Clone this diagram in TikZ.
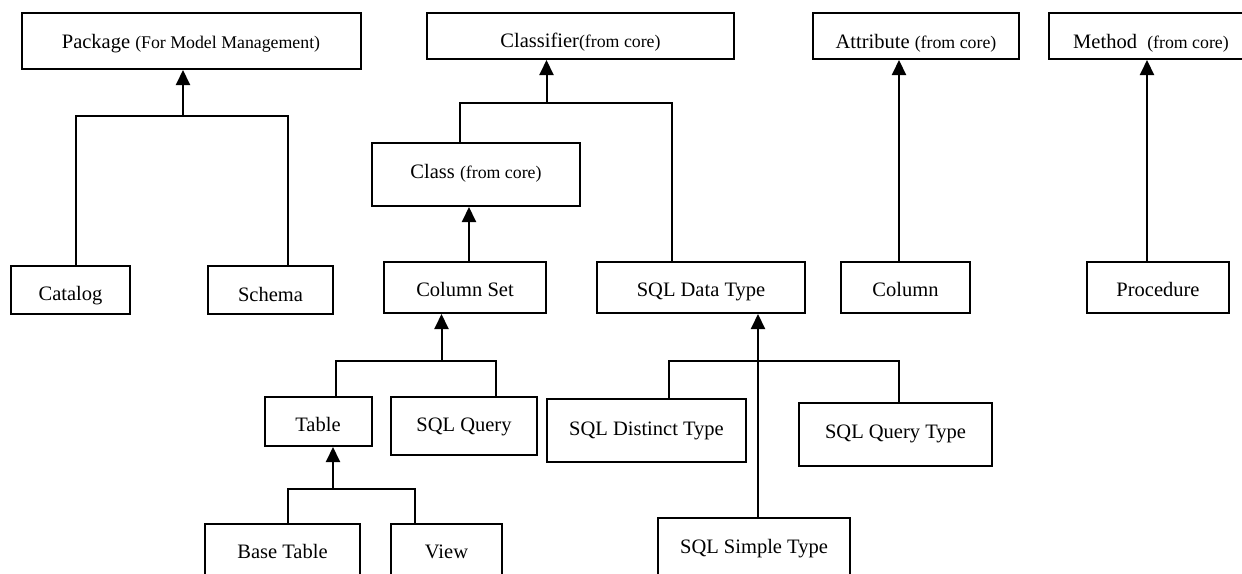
\documentclass[tikz,border=0pt]{standalone}
\usepackage{fontspec}
\setmainfont{Liberation Serif}
\usetikzlibrary{arrows.meta}
\newcommand{\smtxt}{\fontsize{17.8}{20}\selectfont}
\begin{document}
\begin{tikzpicture}[x=1pt,y=-1pt,
  box/.style={draw, line width=2pt, inner sep=0pt, align=center, text depth=5pt, font=\fontsize{20.5}{24}\selectfont},
  bl/.style={text height=#1},
  link/.style={line width=2pt},
  arr/.style={line width=2pt, -{Triangle[width=14pt,length=15pt]}}]
\useasboundingbox (0,0) rectangle (1242,573);
\clip (0,0) rectangle (1242,573);
% top row
\node[box, bl=19.6pt, minimum width=339pt, minimum height=56pt] (pkg) at (191,41) {Package {\smtxt (For Model Management)}};
\node[box, bl=28.4pt, minimum width=307pt, minimum height=46pt] (classifier) at (580.5,36) {Classifier{\smtxt(from core)}};
\node[box, bl=29.6pt, minimum width=206pt, minimum height=46pt] (attribute) at (916,36) {Attribute {\smtxt (from core)}};
\node[box, bl=29.6pt, minimum width=204pt, minimum height=46pt] (method) at (1151,36) {Method\hspace{0.5em}{\smtxt (from core)}};
% second level
\node[box, bl=12.6pt, minimum width=208pt, minimum height=63pt] (class) at (476,174.5) {Class {\smtxt (from core)}};
\node[box, bl=26.4pt, minimum width=119pt, minimum height=48pt] (catalog) at (70.5,290) {Catalog};
\node[box, bl=28.4pt, minimum width=125pt, minimum height=48pt] (schema) at (270.5,290) {Schema};
\node[box, bl=23.4pt, minimum width=162pt, minimum height=51pt] (colset) at (465,287.5) {Column Set};
\node[box, bl=23.4pt, minimum width=208pt, minimum height=51pt] (sqldt) at (701,287.5) {SQL Data Type};
\node[box, bl=23.4pt, minimum width=129pt, minimum height=51pt] (column) at (905.5,287.5) {Column};
\node[box, bl=23.4pt, minimum width=142pt, minimum height=51pt] (proc) at (1158,287.5) {Procedure};
% lower levels
\node[box, bl=25.4pt, minimum width=107pt, minimum height=49pt] (table) at (318,421.5) {Table};
\node[box, bl=16.4pt, minimum width=146pt, minimum height=58pt] (sqlquery) at (464,426) {SQL Query};
\node[box, bl=17.6pt, minimum width=155pt, minimum height=56pt] (basetable) at (282.5,552) {Base Table};
\node[box, bl=17.6pt, minimum width=111pt, minimum height=56pt] (view) at (446.5,552) {View};
\node[box, bl=14pt, minimum width=199pt, minimum height=63pt] (distinct) at (646.5,430.5) {SQL Distinct Type};
\node[box, bl=12.6pt, minimum width=193pt, minimum height=63pt] (querytype) at (895.5,434.5) {SQL Query Type};
\node[box, bl=17.6pt, minimum width=192pt, minimum height=58pt] (simple) at (754,547) {SQL Simple Type};
% junction coordinates
\coordinate (j1) at (183,116);
\coordinate (j1a) at (76,116);
\coordinate (j1b) at (288,116);
\coordinate (j2) at (546.5,103);
\coordinate (j2a) at (460,103);
\coordinate (j2b) at (671.6,103);
\coordinate (j3) at (469,262);
\coordinate (j4) at (899,262);
\coordinate (j5) at (1147,262);
\coordinate (j6) at (441.5,361);
\coordinate (j6a) at (336,361);
\coordinate (j6b) at (496,361);
\coordinate (j7) at (333,489);
\coordinate (j7a) at (288,489);
\coordinate (j7b) at (414.5,489);
\coordinate (j8) at (758,518);
\coordinate (j8a) at (669,361);
\coordinate (j8b) at (899,361);
% Package
\draw[link] (j1a |- catalog.north) -- (j1a) -- (j1b) -- (j1b |- schema.north);
\draw[arr] (j1) -- (j1 |- pkg.south);
% Classifier
\draw[link] (j2a |- class.north) -- (j2a) -- (j2b) -- (j2b |- sqldt.north);
\draw[arr] (j2) -- (j2 |- classifier.south);
% Class
\draw[arr] (j3 |- colset.north) -- (j3 |- class.south);
% Attribute, Method
\draw[arr] (j4 |- column.north) -- (j4 |- attribute.south);
\draw[arr] (j5 |- proc.north) -- (j5 |- method.south);
% Column Set
\draw[link] (j6a |- table.north) -- (j6a) -- (j6b) -- (j6b |- sqlquery.north);
\draw[arr] (j6) -- (j6 |- colset.south);
% Table
\draw[link] (j7a |- basetable.north) -- (j7a) -- (j7b) -- (j7b |- view.north);
\draw[arr] (j7) -- (j7 |- table.south);
% SQL Data Type
\draw[link] (j8a |- distinct.north) -- (j8a) -- (j8b) -- (j8b |- querytype.north);
\draw[arr] (j8 |- simple.north) -- (j8 |- sqldt.south);
\end{tikzpicture}
\end{document}
